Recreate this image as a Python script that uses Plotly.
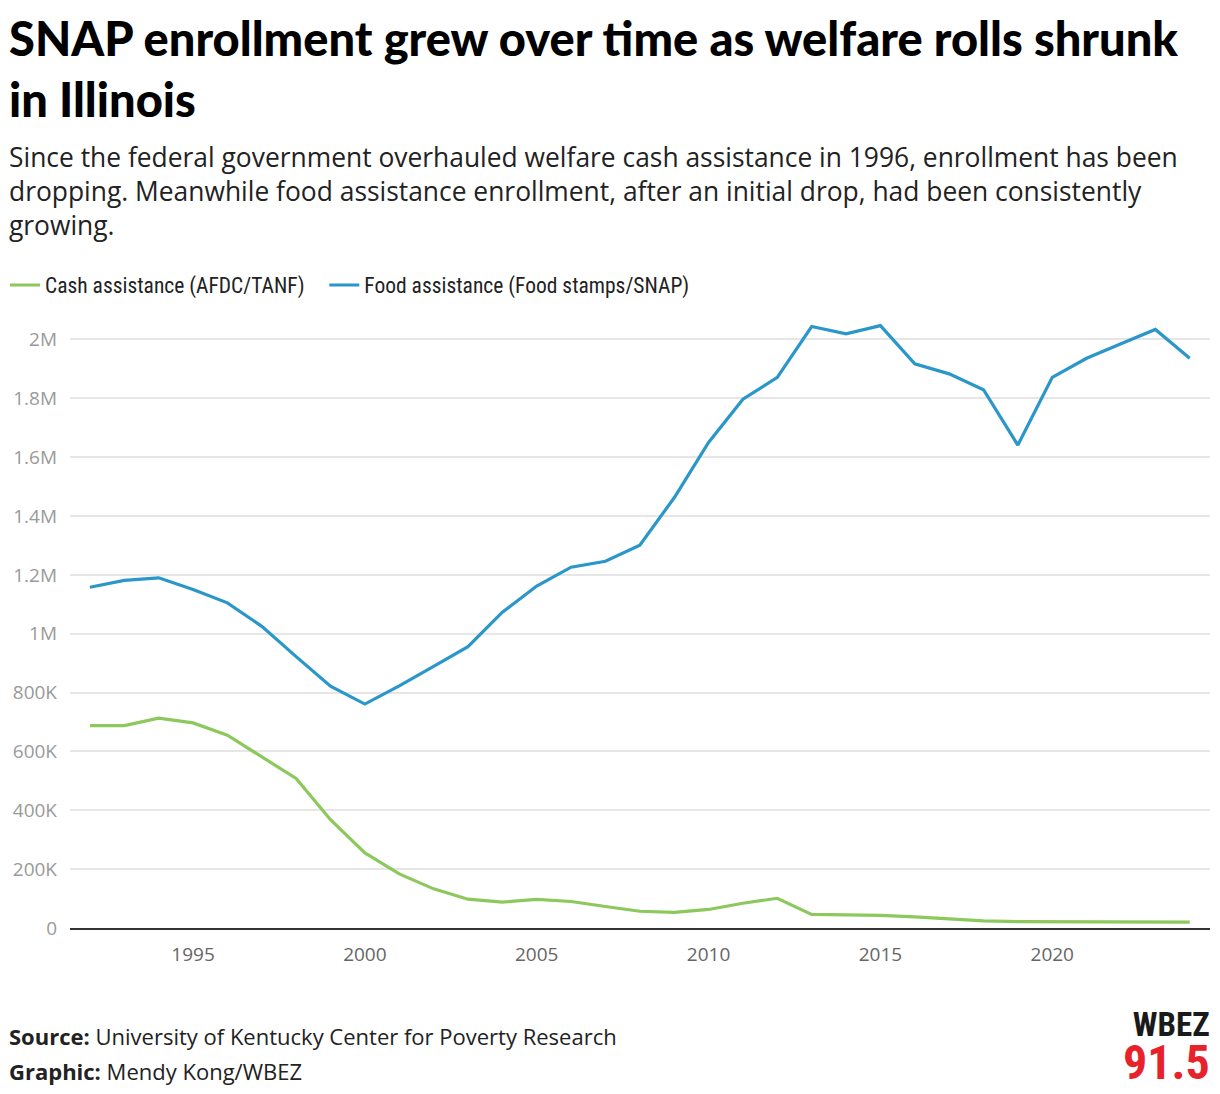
import plotly.graph_objects as go

years = list(range(1992, 2025))
cash_assistance = [688000, 688000, 713000, 697000, 655000, 581000, 508000, 368000, 255000, 184000,
                   133000, 98000, 88000, 97000, 90000, 73000, 57000, 53000, 63000, 84000,
                   101000, 46000, 45000, 43000, 38000, 32000, 24000, 22000, 22000, 21000,
                   21000, 21000, 20000]
food_assistance = [1158000, 1181000, 1190000, 1150000, 1105000, 1025000, 922000, 822000, 761000, 823000,
                   889000, 956000, 1073000, 1162000, 1226000, 1246000, 1301000, 1462000, 1650000, 1797000,
                   1871000, 2044000, 2019000, 2047000, 1917000, 1883000, 1829000, 1641000, 1871000, 1936000,
                   1985000, 2034000, 1936000]
y_tick_vals = [0, 200000, 400000, 600000, 800000, 1000000, 1200000, 1400000, 1600000, 1800000, 2000000]
y_tick_text = ["0", "200K", "400K", "600K", "800K", "1M", "1.2M", "1.4M", "1.6M", "1.8M", "2M"]
x_tick_vals = [1995, 2000, 2005, 2010, 2015, 2020]

GREEN = "#8cc85c"
BLUE = "#2a96c9"
TITLEF = "Lato, 'Open Sans', sans-serif"
BODY = "'Open Sans', Lato, sans-serif"
NARROW = "'Liberation Sans Narrow', 'Roboto Condensed', Roboto, sans-serif"

W, H = 1220, 1094
L, R, T, B = 70, 10, 310, 166
PH = H - T - B


def py(p):
    # pixel y from top -> paper coordinate
    return (H - B - p) / PH


def px(p):
    return (p - L) / (W - L - R)


fig = go.Figure()
fig.add_trace(go.Scatter(x=years, y=cash_assistance, mode="lines",
                         name="Cash assistance (AFDC/TANF)\u00a0\u00a0\u00a0",
                         line=dict(color=GREEN, width=3.2), hoverinfo="x+y"))
fig.add_trace(go.Scatter(x=years, y=food_assistance, mode="lines",
                         name="Food assistance (Food stamps/SNAP)",
                         line=dict(color=BLUE, width=3.2), hoverinfo="x+y"))

annotations = [
    dict(text="SNAP enrollment grew over time as welfare rolls shrunk<br>in Illinois",
         x=px(7), y=py(68), xanchor="left", yanchor="middle", align="left",
         font=dict(family=TITLEF, size=47, color="#000", weight=900)),
    dict(text="Since the federal government overhauled welfare cash assistance in 1996, enrollment has been",
         x=px(7), y=py(157), xanchor="left", yanchor="middle", align="left",
         font=dict(family=BODY, size=26.4, color="#222")),
    dict(text="dropping. Meanwhile food assistance enrollment, after an initial drop, had been consistently",
         x=px(7), y=py(191), xanchor="left", yanchor="middle", align="left",
         font=dict(family=BODY, size=26.4, color="#222")),
    dict(text="growing.",
         x=px(7), y=py(225), xanchor="left", yanchor="middle", align="left",
         font=dict(family=BODY, size=26.4, color="#222")),
    dict(text="<b>Source:</b> University of Kentucky Center for Poverty Research",
         x=px(7), y=py(1036), xanchor="left", yanchor="middle", align="left",
         font=dict(family=BODY, size=22, color="#222")),
    dict(text="<b>Graphic:</b> Mendy Kong/WBEZ",
         x=px(7), y=py(1071), xanchor="left", yanchor="middle", align="left",
         font=dict(family=BODY, size=22, color="#222")),
    dict(text="<b>WBEZ</b><br><b><span style='font-size:48px;color:#e8222b'>91.5</span></b>",
         x=px(1212), y=py(1048), xanchor="right", yanchor="middle", align="right",
         font=dict(family=NARROW, size=33, color="#1a1a1a")),
]
for a in annotations:
    a.update(xref="paper", yref="paper", showarrow=False)

fig.update_layout(
    width=W, height=H,
    margin=dict(l=L, r=R, t=T, b=B, pad=0, autoexpand=False),
    paper_bgcolor="white", plot_bgcolor="white",
    font=dict(family=BODY, color="#222"),
    showlegend=True,
    legend=dict(orientation="h", x=px(5), y=py(285), xanchor="left", yanchor="middle",
                font=dict(family=NARROW, size=21.5, color="#222"), itemwidth=30,
                bgcolor="rgba(0,0,0,0)", tracegroupgap=0),
    annotations=annotations,
    xaxis=dict(range=[1991.42, 2024.59], tickvals=x_tick_vals, showgrid=False, zeroline=False,
               showline=True, linecolor="#333", linewidth=2, ticks="", ticklen=0,
               tickfont=dict(family=BODY, size=19, color="#666"), ticklabelstandoff=8,
               automargin=False, fixedrange=True),
    yaxis=dict(range=[0, 2.1e6], tickvals=y_tick_vals, ticktext=y_tick_text, showgrid=True,
               gridcolor="#e6e6e6", gridwidth=2, zeroline=False, showline=False, ticks="",
               tickfont=dict(family=BODY, size=19, color="#9a9a9a"), ticklabelstandoff=12,
               automargin=False, fixedrange=True),
)

fig.write_html("out.html")
